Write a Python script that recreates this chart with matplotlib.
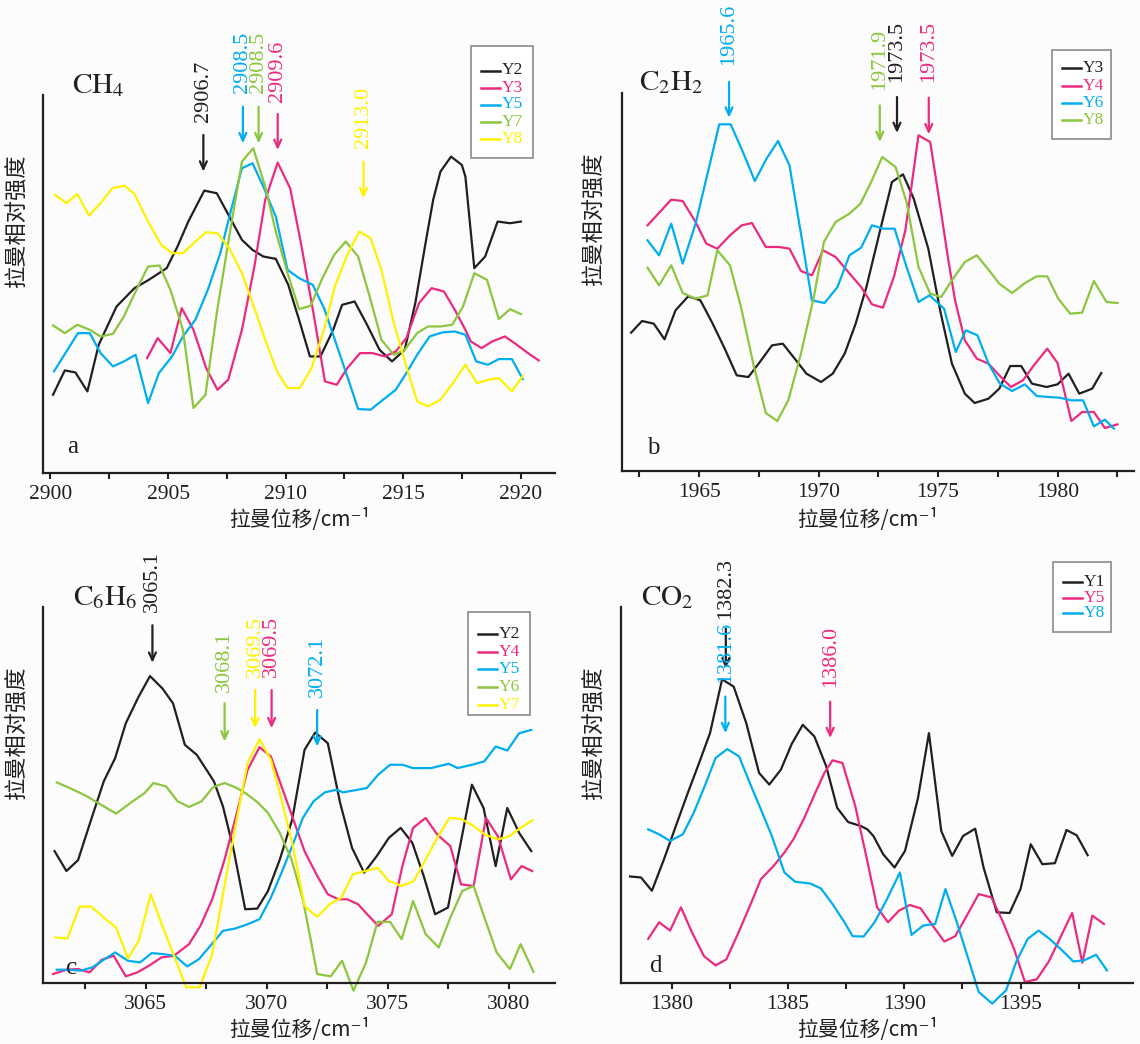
import matplotlib
matplotlib.use('Agg')
import matplotlib.pyplot as plt
from matplotlib.lines import Line2D
from matplotlib.patches import Rectangle
from matplotlib.ticker import MultipleLocator, FuncFormatter

# colours of the original (press CMYK style)
BLACK = '#231f20'
MAGENTA = '#ec2a7f'
CYAN = '#00aeef'
GREEN = '#8cc63e'
YELLOW = '#fff200'

# ---------------- panel a : CH4 ----------------
a_x_y2 = [2900.11, 2900.61, 2901.06, 2901.57, 2902.05, 2902.81, 2903.57, 2904.18, 2904.94, 2905.40,
          2905.86, 2906.54, 2907.07, 2907.53, 2908.14, 2908.59, 2909.05, 2909.58, 2910.11, 2910.57,
          2911.03, 2911.48, 2912.02, 2912.40, 2912.93, 2913.46, 2913.99, 2914.52, 2915.06, 2915.51,
          2915.97, 2916.27, 2916.58, 2917.03, 2917.49, 2917.64, 2918.02, 2918.48, 2919.01, 2919.54, 2920.00]
a_y2 = [23.5, 30.8, 30.2, 24.5, 38.5, 50.0, 55.5, 58.0, 61.5, 68.0,
        75.5, 84.8, 84.0, 78.0, 70.0, 67.0, 65.0, 64.3, 56.5, 46.0,
        35.0, 35.0, 43.0, 50.5, 51.5, 44.5, 37.0, 33.5, 37.0, 51.0,
        70.0, 82.0, 90.5, 95.0, 92.5, 89.0, 61.5, 65.0, 75.5, 75.0, 75.5]
a_x_y3 = [2904.11, 2904.56, 2905.10, 2905.58, 2906.08, 2906.62, 2907.10, 2907.56, 2908.14, 2908.67,
          2909.13, 2909.66, 2910.19, 2910.65, 2911.18, 2911.67, 2912.17, 2912.62, 2913.16, 2913.69,
          2914.22, 2914.68, 2915.13, 2915.67, 2916.20, 2916.73, 2917.19, 2917.64, 2917.87, 2918.33,
          2918.78, 2919.32, 2919.77, 2920.30, 2920.76]
a_y3 = [34.5, 40.5, 36.0, 49.5, 43.0, 31.5, 25.0, 28.0, 43.0, 62.0,
        82.0, 93.2, 85.5, 69.0, 48.0, 27.5, 26.5, 31.5, 36.0, 36.0,
        35.0, 36.5, 40.5, 51.0, 55.5, 54.5, 49.0, 43.0, 39.5, 37.5,
        39.5, 41.0, 38.8, 36.0, 33.8]
a_x_y5 = [2900.15, 2900.68, 2901.17, 2901.67, 2902.13, 2902.66, 2903.12, 2903.62, 2904.15, 2904.61,
          2905.17, 2905.63, 2906.16, 2906.69, 2907.22, 2907.68, 2908.14, 2908.59, 2909.05, 2909.58,
          2910.08, 2910.57, 2911.15, 2911.63, 2912.09, 2912.62, 2913.08, 2913.61, 2914.14, 2914.68,
          2915.13, 2915.59, 2916.12, 2916.65, 2917.19, 2917.64, 2918.10, 2918.60, 2919.06, 2919.62, 2920.08]
a_y5 = [30.5, 36.5, 42.0, 42.0, 36.0, 32.0, 33.5, 35.5, 21.0, 30.0,
        35.0, 41.0, 46.0, 55.0, 66.0, 79.0, 91.5, 93.0, 86.0, 77.0,
        61.0, 58.5, 56.5, 49.5, 40.0, 29.0, 19.2, 19.0, 22.0, 25.0,
        30.0, 35.5, 41.0, 42.2, 42.5, 41.5, 33.5, 32.5, 34.2, 34.2, 28.2]
a_x_y7 = [2900.11, 2900.61, 2901.14, 2901.67, 2902.13, 2902.66, 2903.12, 2903.62, 2904.15, 2904.64,
          2905.10, 2905.63, 2906.08, 2906.59, 2907.07, 2907.60, 2908.14, 2908.62, 2909.13, 2909.58,
          2910.08, 2910.57, 2911.06, 2911.56, 2912.06, 2912.55, 2913.08, 2913.61, 2914.07, 2914.60,
          2915.06, 2915.59, 2916.05, 2916.58, 2917.08, 2917.54, 2918.02, 2918.56, 2919.06, 2919.54, 2920.00]
a_y7 = [44.3, 42.0, 44.5, 43.0, 41.0, 41.8, 47.0, 54.5, 62.0, 62.3,
        55.0, 43.0, 19.5, 23.5, 48.0, 71.0, 93.5, 97.5, 86.0, 72.5,
        60.0, 49.2, 50.2, 58.5, 65.5, 69.5, 65.0, 52.0, 40.0, 35.5,
        37.0, 42.0, 44.0, 44.0, 44.5, 50.0, 60.0, 58.0, 46.2, 49.2, 47.7]
a_x_y8 = [2900.20, 2900.68, 2901.14, 2901.63, 2902.13, 2902.63, 2903.15, 2903.57, 2904.15, 2904.71,
          2905.17, 2905.63, 2906.16, 2906.62, 2907.10, 2907.60, 2908.14, 2908.67, 2909.13, 2909.63,
          2910.08, 2910.60, 2911.10, 2911.63, 2912.09, 2912.62, 2913.13, 2913.61, 2914.07, 2914.60,
          2915.13, 2915.59, 2916.05, 2916.58, 2917.11, 2917.64, 2918.14, 2918.63, 2919.06, 2919.62, 2920.08]
a_y8 = [83.5, 81.0, 83.8, 77.3, 81.0, 85.5, 86.3, 83.8, 75.5, 68.5,
        66.0, 66.0, 69.5, 72.3, 72.0, 67.5, 60.0, 49.5, 40.0, 30.5,
        25.5, 25.5, 31.5, 43.0, 56.0, 65.5, 72.5, 70.5, 61.0, 45.0,
        32.0, 21.5, 20.0, 22.0, 27.0, 32.5, 27.0, 28.0, 28.5, 24.5, 29.2]

# ---------------- panel b : C2H2 ----------------
b_x_y3 = [1962.15, 1962.61, 1963.10, 1963.55, 1964.01, 1964.54, 1965.05, 1965.53, 1966.07, 1966.57,
          1967.06, 1967.54, 1968.05, 1968.50, 1969.00, 1969.49, 1970.10, 1970.59, 1971.09, 1971.55,
          1972.00, 1972.54, 1973.07, 1973.53, 1973.98, 1974.59, 1975.10, 1975.58, 1976.12, 1976.53,
          1977.11, 1977.56, 1978.02, 1978.48, 1978.93, 1979.54, 1980.00, 1980.46, 1980.91, 1981.45, 1981.83]
b_y3 = [41.5, 45.0, 44.2, 39.5, 48.2, 52.4, 51.2, 44.7, 36.7, 28.7,
        28.2, 32.7, 37.7, 38.2, 33.7, 29.2, 26.7, 29.2, 35.2, 44.2,
        55.2, 71.2, 86.7, 89.0, 81.7, 66.7, 47.7, 32.2, 23.2, 20.4,
        21.7, 24.7, 31.5, 31.5, 26.2, 25.2, 26.0, 29.2, 23.2, 24.7, 29.4]
b_x_y4 = [1962.84, 1963.83, 1964.31, 1964.85, 1965.30, 1965.76, 1966.29, 1966.78, 1967.21, 1967.79,
          1968.35, 1968.78, 1969.26, 1969.72, 1970.18, 1970.71, 1971.24, 1971.78, 1972.23, 1972.69,
          1973.15, 1973.63, 1974.18, 1974.67, 1975.05, 1975.43, 1975.71, 1976.12, 1976.62, 1977.11,
          1977.56, 1978.05, 1978.55, 1979.01, 1979.57, 1980.00, 1980.58, 1981.03, 1981.52, 1981.98, 1982.51]
b_y4 = [73.7, 81.4, 81.0, 74.7, 68.2, 66.7, 70.7, 73.7, 74.4, 67.2,
        67.2, 66.7, 60.0, 58.7, 66.2, 64.2, 59.7, 55.2, 50.0, 49.0,
        58.2, 72.2, 100.7, 98.7, 81.2, 63.2, 51.2, 39.2, 33.7, 32.2,
        28.7, 25.2, 27.2, 31.7, 36.7, 32.4, 15.0, 17.7, 17.7, 12.9, 14.0]
b_x_y6 = [1962.84, 1963.32, 1963.83, 1964.31, 1964.85, 1965.35, 1965.84, 1966.32, 1966.83, 1967.33,
          1967.82, 1968.30, 1968.78, 1969.26, 1969.72, 1970.25, 1970.79, 1971.29, 1971.78, 1972.23,
          1972.72, 1973.18, 1973.68, 1974.18, 1974.64, 1975.25, 1975.74, 1976.16, 1976.65, 1977.11,
          1977.59, 1978.10, 1978.63, 1979.13, 1979.62, 1980.08, 1980.58, 1981.07, 1981.52, 1981.98, 1982.36]
b_y6 = [69.2, 64.7, 74.2, 62.2, 74.2, 89.2, 104.0, 104.0, 95.7, 87.0,
        93.7, 99.0, 91.7, 71.2, 51.2, 50.4, 55.2, 64.7, 67.0, 73.7,
        72.7, 72.7, 61.2, 50.7, 52.7, 48.7, 35.7, 42.2, 40.7, 32.2,
        26.2, 24.0, 26.0, 22.5, 22.2, 22.0, 21.2, 21.2, 13.4, 15.4, 12.7]
b_x_y8 = [1962.84, 1963.32, 1963.83, 1964.31, 1964.85, 1965.35, 1965.76, 1966.29, 1966.75, 1967.28,
          1967.79, 1968.27, 1968.73, 1969.26, 1969.80, 1970.22, 1970.71, 1971.29, 1971.75, 1972.20,
          1972.66, 1973.22, 1973.68, 1974.18, 1974.67, 1975.13, 1975.58, 1976.12, 1976.62, 1977.11,
          1977.56, 1978.10, 1978.60, 1979.12, 1979.57, 1980.03, 1980.53, 1981.03, 1981.52, 1982.05, 1982.51]
b_y8 = [61.0, 55.7, 61.7, 53.4, 51.7, 52.7, 66.2, 61.7, 49.2, 31.7,
        17.4, 15.0, 21.2, 35.2, 52.2, 68.7, 74.7, 77.2, 80.2, 86.7,
        94.2, 91.2, 80.7, 61.2, 53.2, 52.2, 57.2, 62.7, 64.7, 60.4,
        56.2, 53.4, 56.2, 58.4, 58.4, 51.7, 47.2, 47.5, 57.0, 50.7, 50.4]

# ---------------- panel c : C6H6 ----------------
c_x_y2 = [3061.24, 3061.73, 3062.21, 3062.75, 3063.27, 3063.74, 3064.18, 3064.71, 3065.18, 3065.69,
          3066.13, 3066.62, 3067.11, 3067.60, 3067.82, 3068.19, 3068.63, 3069.11, 3069.61, 3070.05,
          3070.54, 3071.05, 3071.56, 3072.00, 3072.52, 3073.03, 3073.52, 3074.02, 3074.54, 3075.04,
          3075.53, 3076.01, 3076.48, 3076.95, 3077.48, 3077.98, 3078.47, 3078.95, 3079.45, 3079.93,
          3080.42, 3080.92]
c_y2 = [39.7, 33.7, 37.0, 49.2, 60.7, 67.7, 78.2, 86.2, 92.4, 88.7,
        84.2, 71.7, 68.7, 63.2, 60.7, 53.2, 40.2, 22.2, 22.4, 27.7,
        37.2, 49.2, 70.2, 75.4, 72.2, 54.2, 40.7, 33.2, 38.2, 43.7,
        46.7, 42.2, 32.2, 20.7, 22.7, 41.2, 59.7, 52.7, 35.2, 52.7,
        45.2, 39.7]
c_x_y4 = [3061.18, 3061.73, 3062.21, 3062.68, 3063.19, 3063.68, 3064.18, 3064.66, 3065.18, 3065.65,
          3066.17, 3066.79, 3067.26, 3067.75, 3068.26, 3068.73, 3069.21, 3069.70, 3070.17, 3070.61,
          3071.05, 3071.56, 3072.05, 3072.52, 3072.96, 3073.33, 3073.77, 3074.21, 3074.60, 3075.16,
          3075.60, 3076.04, 3076.56, 3077.04, 3077.58, 3078.02, 3078.54, 3079.05, 3079.54, 3080.08,
          3080.52, 3080.96]
c_y4 = [2.7, 4.0, 4.2, 3.2, 7.0, 8.2, 2.0, 3.2, 5.4, 7.7,
        8.2, 11.7, 17.2, 25.2, 37.2, 50.2, 64.2, 71.0, 68.2, 59.2,
        50.2, 39.7, 32.7, 26.7, 25.2, 25.2, 23.7, 20.2, 17.2, 20.7,
        35.2, 46.7, 49.7, 44.7, 41.2, 29.7, 29.2, 49.7, 44.2, 31.2,
        35.2, 33.7]
c_x_y5 = [3061.33, 3061.80, 3062.31, 3062.80, 3063.27, 3063.74, 3064.27, 3064.77, 3065.25, 3065.73,
          3066.20, 3066.72, 3067.20, 3067.67, 3068.19, 3068.70, 3069.21, 3069.70, 3070.17, 3070.61,
          3071.05, 3071.49, 3071.93, 3072.40, 3072.89, 3073.14, 3073.62, 3074.13, 3074.60, 3075.09,
          3075.60, 3076.04, 3076.78, 3077.51, 3077.88, 3078.47, 3078.98, 3079.45, 3079.93, 3080.42, 3080.92]
c_y5 = [4.0, 4.0, 3.7, 4.7, 7.0, 9.2, 6.7, 6.2, 9.0, 8.7,
        8.2, 5.0, 7.2, 11.2, 15.7, 16.4, 17.7, 19.2, 25.7, 33.2,
        41.2, 49.7, 54.7, 57.4, 58.2, 57.4, 58.0, 58.7, 62.7, 65.7,
        65.7, 64.7, 64.7, 66.0, 64.7, 65.7, 66.7, 71.2, 70.0, 75.2, 76.2]
c_x_y6 = [3061.33, 3061.95, 3062.53, 3063.15, 3063.78, 3064.37, 3064.96, 3065.32, 3065.84, 3066.32,
          3066.79, 3067.31, 3067.79, 3068.26, 3068.77, 3069.21, 3069.65, 3070.05, 3070.54, 3071.02,
          3071.49, 3071.81, 3072.08, 3072.64, 3073.11, 3073.58, 3074.10, 3074.57, 3075.09, 3075.57,
          3076.04, 3076.56, 3077.10, 3077.58, 3078.07, 3078.54, 3079.01, 3079.49, 3080.04, 3080.48, 3081.01]
c_y6 = [60.4, 58.4, 56.4, 53.7, 51.0, 54.2, 57.2, 60.2, 59.2, 54.7,
        53.0, 54.7, 59.0, 60.2, 58.7, 56.7, 54.2, 51.2, 45.2, 37.2,
        25.2, 13.2, 2.7, 2.0, 6.7, -2.3, 6.2, 18.4, 18.4, 13.2,
        24.7, 14.7, 10.7, 19.7, 27.7, 29.2, 19.2, 9.2, 4.2, 11.7, 3.4]
c_x_y7 = [3061.28, 3061.77, 3062.27, 3062.75, 3063.27, 3063.78, 3064.27, 3064.71, 3065.21, 3065.69,
          3066.20, 3066.67, 3067.23, 3067.75, 3068.23, 3068.73, 3069.21, 3069.70, 3070.17, 3070.61,
          3071.08, 3071.56, 3072.08, 3072.59, 3073.08, 3073.55, 3074.06, 3074.57, 3075.04, 3075.57,
          3076.07, 3076.56, 3077.04, 3077.54, 3078.02, 3078.51, 3079.01, 3079.54, 3080.01, 3080.48, 3080.96]
c_y7 = [13.7, 13.4, 23.0, 23.0, 19.7, 16.7, 7.4, 12.7, 26.7, 17.2,
        7.7, -1.3, -1.3, 8.7, 28.2, 48.2, 66.2, 73.4, 67.2, 55.2,
        41.2, 23.2, 19.9, 23.7, 25.7, 32.7, 33.7, 34.7, 30.7, 29.2,
        30.7, 37.2, 43.7, 49.7, 49.4, 47.4, 44.7, 43.2, 44.2, 46.7, 49.0]

# ---------------- panel d : CO2 ----------------
d_x_y1 = [1378.20, 1378.67, 1379.14, 1379.66, 1380.16, 1380.66, 1381.17, 1381.64, 1382.16, 1382.66,
          1383.20, 1383.75, 1384.19, 1384.69, 1385.16, 1385.63, 1386.13, 1386.64, 1387.11, 1387.58,
          1388.13, 1388.41, 1388.67, 1389.09, 1389.58, 1390.03, 1390.59, 1391.06, 1391.59, 1392.06,
          1392.53, 1393.05, 1393.41, 1393.98, 1394.53, 1395.00, 1395.44, 1395.94, 1396.48, 1396.98,
          1397.42, 1397.89]
d_y1 = [32.1, 31.8, 27.8, 37.3, 47.1, 56.8, 66.3, 75.3, 91.5, 89.3,
        78.3, 63.3, 59.8, 64.3, 72.1, 77.8, 74.3, 65.3, 52.8, 48.5,
        47.3, 46.3, 44.3, 38.8, 34.8, 39.8, 55.8, 75.3, 45.8, 38.3,
        44.3, 46.5, 34.8, 21.3, 21.1, 28.3, 41.8, 35.8, 36.1, 46.1,
        44.5, 38.5]
d_x_y5 = [1378.98, 1379.45, 1379.92, 1380.39, 1380.86, 1381.38, 1381.88, 1382.34, 1382.84, 1383.36,
          1383.83, 1384.38, 1384.84, 1385.23, 1385.70, 1386.17, 1386.56, 1386.91, 1387.34, 1387.89,
          1388.36, 1388.83, 1389.30, 1389.77, 1390.23, 1390.70, 1391.22, 1391.72, 1392.19, 1392.69,
          1393.20, 1393.75, 1394.22, 1394.72, 1395.19, 1395.70, 1396.22, 1396.72, 1397.22, 1397.66,
          1398.09, 1398.59]
d_y5 = [13.3, 18.3, 15.8, 22.8, 15.3, 8.1, 5.3, 7.1, 14.8, 23.3,
        31.3, 35.3, 39.3, 43.3, 49.8, 57.3, 63.3, 67.1, 66.3, 53.3,
        38.3, 22.8, 18.3, 21.8, 23.5, 22.5, 17.3, 12.5, 14.1, 20.3,
        26.8, 25.8, 18.8, 10.3, 0.3, 1.1, 6.5, 13.8, 21.1, 6.1,
        20.3, 17.8]
d_x_y8 = [1378.98, 1379.45, 1379.92, 1380.47, 1380.94, 1381.41, 1381.88, 1382.38, 1382.89, 1383.41,
          1383.83, 1384.30, 1384.84, 1385.31, 1385.94, 1386.41, 1386.91, 1387.38, 1387.78, 1388.25,
          1388.72, 1389.22, 1389.81, 1390.31, 1390.81, 1391.33, 1391.77, 1392.27, 1392.73, 1393.20,
          1393.78, 1394.38, 1394.81, 1395.31, 1395.78, 1396.25, 1396.75, 1397.27, 1397.73, 1398.25, 1398.72]
d_y8 = [46.3, 44.8, 42.8, 44.8, 51.3, 59.3, 67.8, 70.5, 68.3, 59.3,
        52.3, 44.3, 33.3, 30.5, 30.0, 28.5, 23.8, 18.8, 14.1, 14.0,
        18.3, 24.8, 33.3, 14.5, 17.3, 17.8, 28.3, 18.1, 7.8, -2.7,
        -6.2, -2.2, 6.3, 13.3, 15.8, 13.3, 10.1, 6.5, 6.8, 8.5, 3.8]

# peak marks: (label, x, label bottom, arrow top, arrow tip, colour)
a_peaks = [('2906.7', 2906.5, 105.5, 101.5, 90.5, BLACK),
           ('2908.5', 2908.18, 114.0, 110.0, 99.0, CYAN),
           ('2908.5', 2908.85, 114.0, 110.0, 99.0, GREEN),
           ('2909.6', 2909.66, 111.5, 107.8, 97.0, MAGENTA),
           ('2913.0', 2913.31, 97.5, 93.5, 82.5, YELLOW)]
b_peaks = [('1965.6', 1966.25, 121.7, 116.7, 106.0, CYAN),
           ('1971.9', 1972.56, 114.2, 109.7, 98.7, GREEN),
           ('1973.5', 1973.28, 116.7, 112.2, 101.4, BLACK),
           ('1973.5', 1974.61, 116.7, 112.0, 101.0, MAGENTA)]
c_peaks = [('3065.1', 3065.28, 111.7, 107.7, 96.4, BLACK),
           ('3068.1', 3068.26, 87.7, 84.2, 72.7, GREEN),
           ('3069.5', 3069.52, 92.2, 88.2, 76.7, YELLOW),
           ('3069.5', 3070.2, 92.2, 88.2, 76.7, MAGENTA),
           ('3072.1', 3072.08, 86.2, 82.2, 71.2, CYAN)]
d_peaks = [('1382.3', 1382.32, 109.8, 106.8, 94.8, BLACK),
           ('1381.6', 1382.3, 90.3, 86.3, 75.3, CYAN),
           ('1386.0', 1386.81, 89.3, 84.8, 73.8, MAGENTA)]

W, H = 1140, 1044
plt.rcParams['font.family'] = ['Liberation Serif', 'DejaVu Serif']
plt.rcParams['mathtext.fontset'] = 'stix'
CJK = ['Noto Sans CJK SC', 'DejaVu Sans']


def fx(x):
    return x / W


def fy(y):
    return 1 - y / H


def tick_label(v, pos):
    if abs(v / 5 - round(v / 5)) < 1e-6:
        return f'{v:.0f}'
    return ''


def draw_legend(fig, box, row0, step, entries):
    # box = (left, top, right, bottom) in pixels
    l, t, r, b = box
    fig.add_artist(Rectangle((fx(l), fy(b)), (r - l) / W, (b - t) / H,
                             transform=fig.transFigure, facecolor='white',
                             edgecolor='#8a8a8a', lw=1.2))
    for i, (name, color) in enumerate(entries):
        y = t + row0 + i * step
        fig.add_artist(Line2D([fx(l + 10), fx(l + 29)], [fy(y), fy(y)],
                              transform=fig.transFigure, color=color, lw=1.8))
        fig.text(fx(l + 31), fy(y), name, color=color, fontsize=12.5,
                 ha='left', va='center')


def make_panel(fig, rect, xlim, ylim, series, peaks, formula, fpos, letter, lpos):
    left, top, right, bottom = rect
    ax = fig.add_axes([fx(left), fy(bottom), (right - left) / W, (bottom - top) / H])
    ax.patch.set_alpha(0)
    for name, color, xs, ys in series:
        ax.plot(xs, ys, color=color, lw=1.6, clip_on=False)
    for txt, x, ly, top_y, tip_y, color in peaks:
        ax.annotate('', xy=(x, tip_y), xytext=(x, top_y), annotation_clip=False,
                    arrowprops=dict(arrowstyle='->,head_length=0.55,head_width=0.25',
                                    color=color, lw=1.6, shrinkA=0, shrinkB=0))
        ax.text(x, ly, txt, rotation=90, ha='center', va='bottom', color=color,
                fontsize=16, clip_on=False)
    ax.text(fpos[0], fpos[1], formula, fontsize=21, color=BLACK, ha='left',
            va='baseline', clip_on=False)
    ax.text(lpos[0], lpos[1], letter, fontsize=18, color=BLACK, ha='left',
            va='baseline', clip_on=False)
    ax.set_xlim(*xlim)
    ax.set_ylim(*ylim)
    ax.spines['top'].set_visible(False)
    ax.spines['right'].set_visible(False)
    for s in ('left', 'bottom'):
        ax.spines[s].set_linewidth(1.6)
        ax.spines[s].set_color(BLACK)
    ax.set_yticks([])
    ax.xaxis.set_major_locator(MultipleLocator(2.5))
    ax.xaxis.set_major_formatter(FuncFormatter(tick_label))
    ax.tick_params(axis='x', direction='out', length=4.5, width=1.5, pad=4,
                   labelsize=15.5, colors=BLACK)
    return ax


fig = plt.figure(figsize=(W / 100, H / 100), dpi=100)
fig.patch.set_facecolor('#fcfcfc')

# panel a
make_panel(fig, (42.7, 95, 555, 473), (2899.67, 2921.45), (0, 113.5),
           [('Y2', BLACK, a_x_y2, a_y2), ('Y3', MAGENTA, a_x_y3, a_y3),
            ('Y5', CYAN, a_x_y5, a_y5), ('Y7', GREEN, a_x_y7, a_y7),
            ('Y8', YELLOW, a_x_y8, a_y8)],
           a_peaks, r'$\mathrm{CH_4}$', (2900.9, 114.0), 'a', (2900.7, 6.0))
draw_legend(fig, (471, 46, 533, 158), 24.5, 17,
            [('Y2', BLACK), ('Y3', MAGENTA), ('Y5', CYAN), ('Y7', GREEN), ('Y8', YELLOW)])

# panel b
make_panel(fig, (622, 93, 1134, 471), (1961.77, 1983.2), (0, 113.4),
           [('Y3', BLACK, b_x_y3, b_y3), ('Y4', MAGENTA, b_x_y4, b_y4),
            ('Y6', CYAN, b_x_y6, b_y6), ('Y8', GREEN, b_x_y8, b_y8)],
           b_peaks, r'$\mathrm{C_2H_2}$', (1962.49, 114.2), 'b', (1962.8, 5.2))
draw_legend(fig, (1052, 50, 1111, 139), 18.5, 17.2,
            [('Y3', BLACK), ('Y4', MAGENTA), ('Y6', CYAN), ('Y8', GREEN)])

# panel c
make_panel(fig, (42.7, 607, 555, 983), (3060.75, 3081.9), (0, 113.2),
           [('Y2', BLACK, c_x_y2, c_y2), ('Y4', MAGENTA, c_x_y4, c_y4),
            ('Y5', CYAN, c_x_y5, c_y5), ('Y6', GREEN, c_x_y6, c_y6),
            ('Y7', YELLOW, c_x_y7, c_y7)],
           c_peaks, r'$\mathrm{C_6H_6}$', (3062.02, 113.7), 'c', (3061.7, 2.7))
draw_legend(fig, (468, 612, 530, 715), 22, 17.7,
            [('Y2', BLACK), ('Y4', MAGENTA), ('Y5', CYAN), ('Y6', GREEN), ('Y7', YELLOW)])

# panel d
make_panel(fig, (621, 607, 1133, 983), (1377.81, 1399.84), (0, 113.3),
           [('Y1', BLACK, d_x_y1, d_y1), ('Y5', MAGENTA, d_x_y5, d_y5),
            ('Y8', CYAN, d_x_y8, d_y8)],
           d_peaks, r'$\mathrm{CO_2}$', (1378.67, 113.8), 'd', (1379.0, 3.3))
draw_legend(fig, (1053, 562, 1111, 632), 20.3, 15.5,
            [('Y1', BLACK), ('Y5', MAGENTA), ('Y8', CYAN)])

# axis titles
for cx, cy in [(300, 519), (868, 519), (300, 1030), (868, 1030)]:
    fig.text(fx(cx), fy(cy), '拉曼位移/cm⁻¹', family=CJK, fontsize=15,
             ha='center', va='center', color=BLACK)
for cx, cy in [(17, 221), (594, 219), (17, 733), (594, 733)]:
    fig.text(fx(cx), fy(cy), '拉曼相对强度', family=CJK, fontsize=16,
             rotation=90, ha='center', va='center', color=BLACK)

fig.savefig('out.png', dpi=100, facecolor=fig.get_facecolor())
